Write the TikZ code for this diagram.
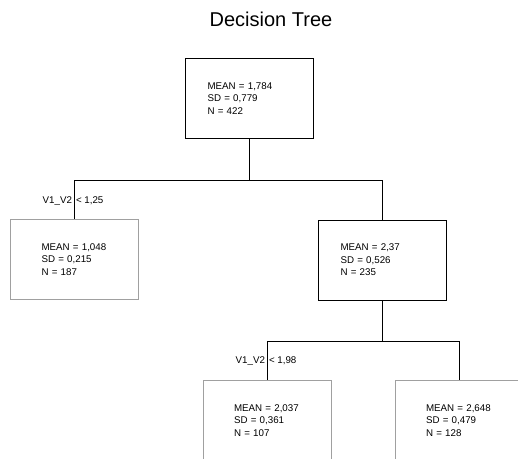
\documentclass[tikz,border=0pt]{standalone}
\usepackage{fontspec}
\setmainfont{Liberation Sans}
\definecolor{leafgray}{RGB}{160,160,160}

\begin{document}
\begin{tikzpicture}[x=1pt,y=-1pt,line width=1pt,
  split/.style={draw=black,minimum width=127pt,minimum height=80pt,align=left,
    text width=84pt,inner xsep=22pt,font=\fontsize{9.75}{12.5}\selectfont},
  leaf/.style={split,draw=leafgray,text width=66pt,inner xsep=31pt},
  rule/.style={font=\fontsize{9.75}{12.5}\selectfont,inner sep=1.5pt}]
\useasboundingbox (0,0) rectangle (518,458);
\clip (0,0) rectangle (518,458);
\node[anchor=base,font=\fontsize{20}{24}\selectfont] (title) at (271,26) {Decision Tree};
% root and first split
\node[split] (root) at (249.5,98.5) {MEAN = 1,784\\SD = 0,779\\N = 422};
\node[leaf] (left) at (74.5,259.5) {MEAN = 1,048\\SD = 0,215\\N = 187};
\node[split] (mid) at (382.5,260) {MEAN = 2,37\\SD = 0,526\\N = 235};
\draw (root.south) -- ++(0,41) coordinate (j1);
\draw (j1) -| (left.north);
\draw (j1) -| (mid.north);
\node[rule,anchor=base east] (r1a) at (74,203) {V1\_V2};
\node[rule,anchor=base west] (r1b) at (74,203) {< 1,25};
% second split
\node[leaf] (lowleft) at (267,420.5) {MEAN = 2,037\\SD = 0,361\\N = 107};
\node[leaf] (lowright) at (459,420.5) {MEAN = 2,648\\SD = 0,479\\N = 128};
\draw (mid.south) -- ++(0,41) coordinate (j2);
\draw (j2) -| (lowleft.north);
\draw (j2) -| (lowright.north);
\node[rule,anchor=base east] (r2a) at (267,363) {V1\_V2};
\node[rule,anchor=base west] (r2b) at (267,363) {< 1,98};
\end{tikzpicture}
\end{document}
